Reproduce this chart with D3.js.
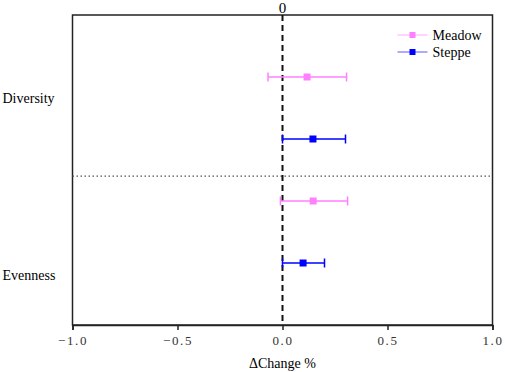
<!DOCTYPE html>
<html>
<head>
<meta charset="utf-8">
<script src="https://cdn.jsdelivr.net/npm/d3@7"></script>
<style>
  body { margin: 0; background: #fff; }
</style>
</head>
<body>
<svg id="chart" width="505" height="372"></svg>
<script>
"use strict";

// values
var groups = ["Diversity", "Evenness"]
var series = ["Meadow", "Steppe"]
var rowGroup = ["Diversity", "Diversity", "Evenness", "Evenness"]
var rowSeries = ["Meadow", "Steppe", "Meadow", "Steppe"]
var means = [0.117, 0.145, 0.146, 0.098]
var lows = [-0.069, 0.0, -0.01, 0.0]
var highs = [0.305, 0.30, 0.31, 0.20]
var xTicks = [-1.0, -0.5, 0.0, 0.5, 1.0]

var colors = { Meadow: "#ff80ff", Steppe: "#0000ff" }
var serif = "'Liberation Serif', 'Times New Roman', serif"

var margin = { left: 72.5, right: 12.5, top: 15, bottom: 47 }
var svg = d3.select("#chart")
var width = +svg.attr("width") - margin.left - margin.right
var height = +svg.attr("height") - margin.top - margin.bottom

var x = d3.scaleLinear().domain([-1, 1]).range([0, width])
var y = d3.scaleLinear().domain([0, 5]).range([0, height])

// row slots 1..4, group labels and separator in the same units
var rowPos = [1, 2, 3, 4]
var groupLabelPos = { Diversity: 1.34, Evenness: 4.19 }
var separatorPos = 2.6

var g = svg.append("g")
    .attr("transform", "translate(" + margin.left + "," + margin.top + ")")
    .attr("font-family", serif)

// frame
g.append("rect")
    .attr("width", width).attr("height", height)
    .attr("fill", "none").attr("stroke", "#222").attr("stroke-width", 1.5)

// bottom axis
var xAxis = d3.axisBottom(x).tickValues(xTicks).tickSize(5).tickPadding(6)
    .tickFormat(d => d3.format(".1f")(d).replace("-", "\u2212"))
var axG = g.append("g").attr("transform", "translate(0," + height + ")").call(xAxis)
axG.attr("font-family", serif)
axG.select(".domain").attr("stroke", "#222").attr("stroke-width", 1.5)
axG.selectAll(".tick line").attr("stroke", "#222").attr("stroke-width", 1.5)
axG.selectAll(".tick text")
    .attr("font-size", 13).attr("fill", "#333")
    .attr("letter-spacing", "1.6px")

g.append("text")
    .attr("x", x(0)).attr("y", height + 43)
    .attr("text-anchor", "middle").attr("font-size", 14)
    .text("\u0394Change %")

// zero label on top
g.append("text")
    .attr("x", x(0)).attr("y", -2)
    .attr("text-anchor", "middle").attr("font-size", 15)
    .text("0")

// group labels
groups.forEach(function (name) {
    g.append("text")
        .attr("x", -70).attr("y", y(groupLabelPos[name]))
        .attr("dy", "0.35em").attr("font-size", 14)
        .text(name)
})

// separator
g.append("line")
    .attr("x1", 0).attr("x2", width)
    .attr("y1", y(separatorPos)).attr("y2", y(separatorPos))
    .attr("stroke", "#555").attr("stroke-width", 1.3)
    .attr("stroke-dasharray", "1.5,2.5")

// zero line
g.append("line")
    .attr("x1", x(0)).attr("x2", x(0))
    .attr("y1", 0).attr("y2", height)
    .attr("stroke", "#111").attr("stroke-width", 2)
    .attr("stroke-dasharray", "6,4")

// error bars
var rows = rowPos.map((p, i) => ({ pos: p, s: rowSeries[i], m: means[i], lo: lows[i], hi: highs[i] }))
var bars = g.selectAll(".bar").data(rows).enter().append("g").attr("class", "bar")
bars.append("line")
    .attr("x1", d => x(d.lo)).attr("x2", d => x(d.hi))
    .attr("y1", d => y(d.pos)).attr("y2", d => y(d.pos))
    .attr("stroke", d => colors[d.s]).attr("stroke-width", 1.5)
bars.selectAll(".cap").data(d => [d.lo, d.hi].map(v => ({ v: v, pos: d.pos, s: d.s })))
    .enter().append("line")
    .attr("x1", c => x(c.v)).attr("x2", c => x(c.v))
    .attr("y1", c => y(c.pos) - 4.5).attr("y2", c => y(c.pos) + 4.5)
    .attr("stroke", c => colors[c.s]).attr("stroke-width", 1.5)
bars.append("rect")
    .attr("x", d => x(d.m) - 3.5).attr("y", d => y(d.pos) - 3.5)
    .attr("width", 7).attr("height", 7)
    .attr("fill", d => colors[d.s])

// legend
var legend = g.append("g").attr("transform", "translate(" + (width - 95) + ",20)")
series.forEach(function (s, i) {
    var row = legend.append("g").attr("transform", "translate(0," + (i * 17) + ")")
    row.append("line").attr("x1", 0).attr("x2", 30).attr("y1", 0).attr("y2", 0)
        .attr("stroke", colors[s]).attr("stroke-opacity", 0.55).attr("stroke-width", 1.2)
    row.append("rect").attr("x", 12).attr("y", -3).attr("width", 6).attr("height", 6)
        .attr("fill", colors[s])
    row.append("text").attr("x", 35).attr("y", 0).attr("dy", "0.35em")
        .attr("font-size", 14).text(s)
})
</script>
</body>
</html>
